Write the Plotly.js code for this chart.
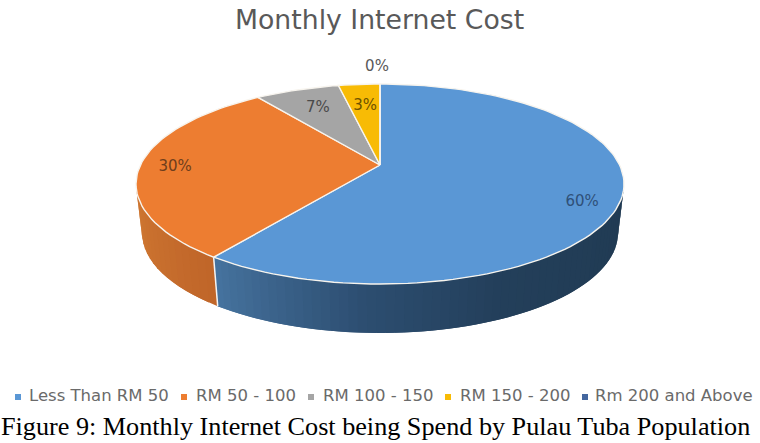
<!DOCTYPE html>
<html>
<head>
<meta charset="utf-8">
<script src="https://cdn.plot.ly/plotly-3.0.1.min.js"></script>
<style>html,body{margin:0;padding:0;background:#fff;overflow:hidden}#chart{width:760px;height:443px}</style>
</head>
<body>
<div id="chart"></div>
<script>
const categories = ["Less Than RM 50", "RM 50 - 100", "RM 100 - 150", "RM 150 - 200", "Rm 200 and Above"];
const values = [60, 30, 6.7, 3.3, 0];
const sliceColors = ["#5a97d5", "#ed7d31", "#a5a5a5", "#f8bb05", "#44679f"];
const labelColors = ["#2f5078", "#6e3d1c", "#4a4a4a", "#6e5200", "#595959"];
const chartTitle = "Monthly Internet Cost";
const caption = "Figure 9: Monthly Internet Cost being Spend by Pulau Tuba Population";

// Drawing geometry (axes run in page pixels)
const top3d = {cx: 380, cy: 184, rx: 244, ry: 100, tilt: 0.19};
const base3d = {cx: 380, cy: 233, rx: 238, ry: 100};
const labelFrac = [0.835, 0.855, 0.75, 0.76, 1.22];
const labelDx = [0, 0, 0, 1, -3];
const labelDy = [11, 2, 0, 3, 1];
const legendMarkX = [18, 184, 311, 448, 585];
const legendTextX = [29, 196, 323, 460, 595];
const legendY = 397;

const total = values.reduce((a, b) => a + b, 0);
function rim(share) {
  const th = share / total * 2 * Math.PI, u = Math.sin(th), v = Math.cos(th), a = top3d.tilt;
  const d = 1 + a * v;
  return {X: u * Math.sqrt(1 - a * a) / d, Y: (v + a) / d};
}
const toX = p => top3d.cx + top3d.rx * p.X;
const toY = p => top3d.cy - top3d.ry * p.Y;
const apex = {x: toX(rim(0)) , y: top3d.cy - top3d.ry * top3d.tilt};

function hex(c) { return [1, 3, 5].map(i => parseInt(c.slice(i, i + 2), 16)); }
function ramp(stops, t) {
  for (let i = 1; i < stops.length; i++) {
    if (t <= stops[i][0]) {
      const s = stops[i - 1], e = stops[i], f = (t - s[0]) / (e[0] - s[0] || 1);
      const A = hex(s[1]), B = hex(e[1]);
      return "rgb(" + A.map((x, k) => Math.round(x + (B[k] - x) * f)).join(",") + ")";
    }
  }
  return stops[stops.length - 1][1];
}
const blueWall = [[0, "#203a52"], [0.45, "#233f5a"], [0.7, "#2c4d70"], [1, "#46739f"]];
const orangeWall = [[0, "#bf6529"], [1, "#d07832"]];

const traces = [];
const common = {type: "scatter", hoverinfo: "skip", showlegend: false, cliponaxis: false};

// side wall: strips overlap the next one, which paints over the shared edge
const splitPt = rim(values[0]);
const splitPhi = Math.atan2(-splitPt.Y, splitPt.X);
function wallStrip(p0, p1, color) {
  const xs = [], ys = [];
  [[p0, top3d], [p1, top3d], [p1, base3d], [p0, base3d]].forEach(([p, e]) => {
    xs.push(e.cx + e.rx * Math.cos(p)); ys.push(e.cy + e.ry * Math.sin(p));
  });
  traces.push(Object.assign({}, common, {x: xs, y: ys, mode: "lines", fill: "toself",
    fillcolor: color, line: {color: color, width: 0}}));
}
const nBlue = 60, nOrange = 16;
for (let i = 0; i < nBlue; i++) {
  const p0 = splitPhi * i / nBlue, p1 = i === nBlue - 1 ? splitPhi : splitPhi * (i + 2) / nBlue;
  wallStrip(p0, p1, ramp(blueWall, (i + 0.5) / nBlue));
}
for (let i = 0; i < nOrange; i++) {
  const span = Math.PI - splitPhi;
  const p0 = splitPhi + span * i / nOrange, p1 = i === nOrange - 1 ? Math.PI : splitPhi + span * (i + 2) / nOrange;
  wallStrip(p0, p1, ramp(orangeWall, (i + 0.5) / nOrange));
}
// pale seam between the two wall colours
traces.push(Object.assign({}, common, {
  x: [top3d.cx + top3d.rx * Math.cos(splitPhi), base3d.cx + base3d.rx * Math.cos(splitPhi)],
  y: [top3d.cy + top3d.ry * Math.sin(splitPhi), base3d.cy + base3d.ry * Math.sin(splitPhi)],
  mode: "lines", line: {color: "#f4f4f4", width: 1.5}}));

// top face wedges
let cum = 0;
const lx = [], ly = [], lt = [];
values.forEach((v, i) => {
  const xs = [apex.x], ys = [apex.y];
  const n = Math.max(1, Math.ceil(v * 2));
  for (let k = 0; k <= n; k++) {
    const p = rim(cum + v * k / n);
    xs.push(toX(p)); ys.push(toY(p));
  }
  xs.push(apex.x); ys.push(apex.y);
  traces.push(Object.assign({}, common, {x: xs, y: ys, mode: "lines", fill: "toself", name: categories[i],
    fillcolor: sliceColors[i], line: {color: "#f7f4ee", width: 1.4}}));
  const m = rim(cum + v / 2);
  lx.push(apex.x + (toX(m) - apex.x) * labelFrac[i] + labelDx[i]);
  ly.push(apex.y + (toY(m) - apex.y) * labelFrac[i] + labelDy[i]);
  lt.push(Math.round(v / total * 100) + "%");
  cum += v;
});
// data labels
traces.push(Object.assign({}, common, {x: lx, y: ly, text: lt, mode: "text", textposition: "middle center",
  textfont: {family: "DejaVu Sans, sans-serif", size: 15, color: labelColors}}));

// legend
categories.forEach((c, i) => {
  traces.push(Object.assign({}, common, {x: [legendMarkX[i]], y: [legendY], mode: "markers",
    marker: {symbol: "square", size: 6, color: sliceColors[i]}}));
  traces.push(Object.assign({}, common, {x: [legendTextX[i]], y: [legendY], text: [c], mode: "text",
    textposition: "middle right",
    textfont: {family: "DejaVu Sans, sans-serif", size: 16.5, color: "#6a6a6a"}}));
});

const layout = {
  width: 760, height: 443, margin: {l: 0, r: 0, t: 0, b: 0},
  paper_bgcolor: "#fff", plot_bgcolor: "#fff", showlegend: false,
  xaxis: {range: [0, 760], visible: false, fixedrange: true},
  yaxis: {range: [443, 0], visible: false, fixedrange: true},
  annotations: [
    {text: chartTitle, xref: "x", yref: "y", x: 379, y: 19, showarrow: false, xanchor: "center", yanchor: "middle",
     font: {family: "DejaVu Sans, sans-serif", size: 26.7, color: "#595959"}},
    {text: caption, xref: "x", yref: "y", x: 375, y: 426, showarrow: false, xanchor: "center", yanchor: "middle",
     font: {family: "Liberation Serif, serif", size: 26.2, color: "#000"}}
  ]
};
Plotly.newPlot("chart", traces, layout, {displayModeBar: false, staticPlot: true});
</script>
</body>
</html>
